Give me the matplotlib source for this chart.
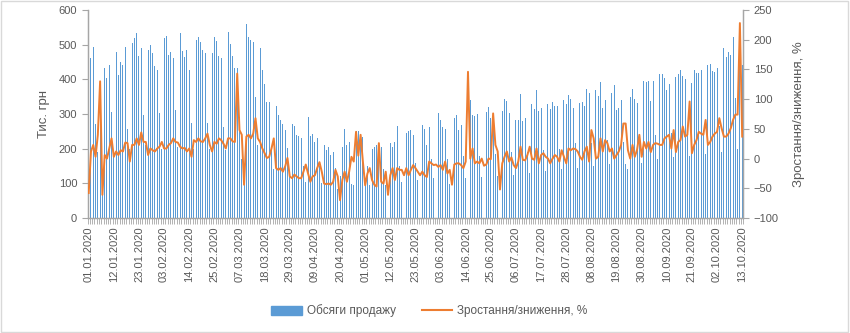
import matplotlib
matplotlib.use('Agg')
import matplotlib.pyplot as plt
import numpy as np
import pandas as pd
from matplotlib.patches import Rectangle
from matplotlib.lines import Line2D

plt.rcParams['font.family'] = ['Liberation Sans', 'DejaVu Sans']

start_date = '2020-01-01'
end_date = '2020-10-13'
label_step = 11

sales = [
    155, 461, 494, 271, 190,
    350, 120, 432, 403, 441, 307, 195,
    480, 413, 449, 441, 494, 257, 200,
    506, 519, 535, 466, 490, 297, 210,
    485, 499, 477, 438, 428, 302, 200,
    519, 524, 471, 478, 461, 311, 205,
    533, 482, 463, 486, 427, 275, 200,
    514, 521, 509, 486, 477, 275, 200,
    477, 523, 510, 466, 461, 263, 195,
    537, 501, 468, 432, 434, 290, 170,
    150, 559, 523, 514, 507, 350, 210,
    490, 428, 386, 336, 336, 202, 140,
    322, 298, 283, 271, 255, 202, 120,
    271, 264, 240, 237, 231, 150, 105,
    292, 237, 241, 220, 232, 150, 100,
    212, 196, 205, 182, 190, 143, 85,
    120, 204, 257, 211, 220, 97, 95,
    251, 251, 240, 235, 110, 150, 95,
    200, 205, 210, 198, 205, 140, 95,
    100, 215, 205, 220, 265, 150, 105,
    230, 245, 250, 255, 240, 160, 110,
    258, 268, 258, 212, 263, 170, 116,
    326, 302, 283, 262, 258, 170, 97,
    120, 288, 298, 254, 268, 180, 115,
    331, 340, 296, 293, 300, 180, 119,
    312, 305, 320, 288, 300, 185, 120,
    130, 309, 342, 337, 302, 190, 125,
    283, 283, 357, 281, 288, 190, 130,
    329, 315, 369, 309, 318, 195, 135,
    329, 314, 334, 323, 323, 200, 140,
    340, 329, 355, 343, 316, 215, 145,
    331, 334, 323, 372, 360, 215, 150,
    369, 353, 393, 316, 341, 225, 155,
    362, 383, 311, 316, 340, 220, 155,
    140, 349, 372, 343, 331, 230, 160,
    395, 391, 395, 337, 395, 240, 170,
    415, 415, 405, 369, 386, 245, 175,
    407, 415, 426, 409, 400, 250, 180,
    388, 426, 417, 417, 428, 255, 185,
    440, 445, 424, 422, 434, 265, 190,
    489, 463, 480, 471, 523, 346, 200,
    470, 440,
]

growth = [
    -58, 12, 23, 3, 40,
    130, -61, 6, 0, 17, 34, 3,
    12, 6, 14, 12, 27, 26, -5,
    23, 23, 34, 23, 44, 28, 28,
    6, 17, 14, 12, 17, 20, 28,
    17, 17, 23, 26, 34, 28, 27,
    20, 17, 18, 12, 17, 3, 31,
    28, 34, 29, 28, 34, 42, 23,
    12, 28, 25, 34, 31, 25, 17,
    34, 34, 29, 28, 143, 48, 40,
    -44, 37, 40, 34, 42, 68, 34,
    28, 17, 9, 1, 3, 17, 34,
    -16, -19, -16, -22, -13, 1, -30,
    -33, -27, -30, -33, -33, -22, -10,
    -25, -39, -30, -28, -16, -6, -22,
    -42, -43, -42, -44, -39, -19, -30,
    -70, -36, -22, -39, -22, 3, -5,
    45, 5, 40, -5, -45, -25, -16,
    -36, -44, -47, 26, -39, -42, -22,
    -61, -28, -16, -36, -16, -19, -19,
    -28, -16, -28, -19, -11, -16, -22,
    -28, -22, -28, -31, -5, -8, -11,
    -10, -14, -11, -19, -5, -25, -19,
    -44, -10, -8, -8, -11, -16, -5,
    146, 0, 17, -8, -5, -8, 0,
    -12, -10, 0, -1, 76, 23, 12,
    -52, -8, 3, 12, -5, 2, -11,
    -16, -5, 20, -2, -3, 6, 20,
    0, -2, 17, -8, 6, 9, 3,
    0, -8, 0, 6, 3, -5, 14,
    3, -8, 17, 14, 17, 16, 12,
    3, -2, 12, 20, -5, 48, 34,
    0, 3, 34, 12, 31, 26, 12,
    17, 0, 6, 12, 23, 59, 59,
    14, 0, 23, 3, 15, 40, 3,
    28, 17, 28, 11, 23, 26, 25,
    23, 23, 34, 37, 40, 17, 48,
    11, 28, 31, 54, 37, 40, 96,
    9, 23, 31, 45, 42, 40, 65,
    23, 28, 37, 42, 45, 68, 51,
    37, 37, 42, 51, 65, 74, 74,
    228, 37,
]

dates = pd.date_range(start_date, end_date, freq='D')
labels = [d.strftime('%d.%m.%Y') for d in dates]
n = len(dates)
x = np.arange(n)

BLUE = '#5B9BD5'
ORANGE = '#ED7D31'
TXT = '#595959'
AX = '#A6A6A6'

fig = plt.figure(figsize=(8.5, 3.33), dpi=100)
ax = fig.add_axes([0.103, 0.3453, 0.7715, 0.6247])
ax.bar(x, sales, width=0.42, color=BLUE, linewidth=0, zorder=2)
ax.set_ylim(0, 600)
ax.set_yticks(np.arange(0, 601, 100))
ax.set_xlim(-0.5, n - 0.5)

ax2 = ax.twinx()
ax2.plot(x, growth, color=ORANGE, lw=1.4, zorder=3, solid_joinstyle='round')
ax2.set_ylim(-100, 250)
ax2.set_yticks(np.arange(-100, 251, 50))

ax.set_xticks(x[::label_step])
ax.set_xticklabels(labels[::label_step], rotation=90, fontsize=8, color=TXT)
ax.set_xticks(np.arange(-0.5, n, 1), minor=True)
ax.tick_params(axis='x', which='major', length=0, pad=6)
ax.tick_params(axis='x', which='minor', length=4, color=AX, width=0.6)
ax.tick_params(axis='y', length=4, color=AX, labelsize=8, labelcolor=TXT, width=0.8)
ax2.tick_params(axis='y', length=4, color=AX, labelsize=8, labelcolor=TXT, width=0.8)

for a in (ax, ax2):
    a.spines['top'].set_visible(False)
    for s in ('left', 'right', 'bottom'):
        a.spines[s].set_color(AX)
        a.spines[s].set_linewidth(0.9)

ax.set_ylabel('Тис. грн', fontsize=9.5, color=TXT, labelpad=6)
ax2.set_ylabel('Зростання/зниження, %', fontsize=9.5, color=TXT, labelpad=10)

handles = [Rectangle((0, 0), 1, 1, color=BLUE), Line2D([0], [0], color=ORANGE, lw=1.5)]
fig.legend(handles, ['Обсяги продажу', 'Зростання/зниження, %'], loc='center',
           bbox_to_anchor=(0.505, 0.066), ncol=2, frameon=False, fontsize=8.5,
           labelcolor=TXT, handlelength=2.6, handleheight=0.9, columnspacing=2.2,
           handletextpad=0.4)

fig.patches.append(Rectangle((0.001, 0.002), 0.997, 0.995, transform=fig.transFigure,
                             fill=False, edgecolor='#D9D9D9', lw=1))

fig.savefig('out.png', dpi=100)
